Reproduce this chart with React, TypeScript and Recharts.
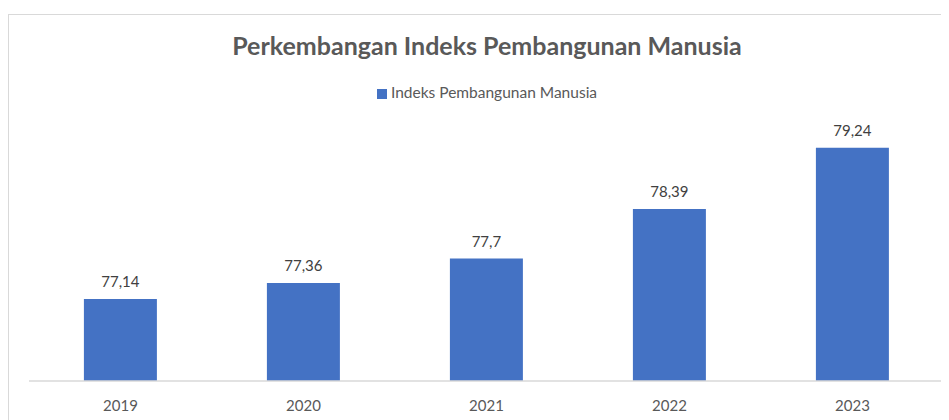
import React from "react";
import { BarChart, Bar, XAxis, YAxis, LabelList } from "recharts";

const years = ["2019", "2020", "2021", "2022", "2023"];
const ipmValues = [77.14, 77.36, 77.7, 78.39, 79.24];
const seriesName = "Indeks Pembangunan Manusia";
const chartTitle = "Perkembangan Indeks Pembangunan Manusia";

const data = years.map((y, i) => ({ year: y, value: ipmValues[i] }));

const BAR_COLOR = "#4472C4";
const TEXT = "#595959";
const FONT = "Lato, 'Open Sans', sans-serif";

export default function App() {
  return (
    <div style={{ position: "relative", width: 941, height: 412, fontFamily: FONT, overflow: "hidden" }}>
      <div
        style={{
          position: "absolute",
          left: 0,
          top: 6,
          width: 960,
          height: 420,
          borderTop: "1px solid #d9d9d9",
          borderLeft: "1px solid #d9d9d9",
          boxSizing: "border-box",
        }}
      />
      <div
        style={{
          position: "absolute",
          left: 0,
          width: 958,
          top: 22,
          textAlign: "center",
          fontSize: 25,
          fontWeight: 700,
          color: TEXT,
          lineHeight: "30px",
        }}
      >
        {chartTitle}
      </div>
      <div
        style={{
          position: "absolute",
          left: 0,
          width: 958,
          top: 75,
          textAlign: "center",
          fontSize: 15.5,
          color: TEXT,
          lineHeight: "18px",
        }}
      >
        <span style={{ display: "inline-block", width: 10, height: 10, background: BAR_COLOR, marginRight: 4, verticalAlign: "-1px" }} />
        {seriesName}
      </div>
      <div style={{ position: "absolute", left: 0, top: 0 }}>
        <BarChart
          width={941}
          height={412}
          data={data}
          margin={{ top: 85, right: 5, bottom: 9, left: 21 }}
          barCategoryGap="30%"
        >
          <XAxis
            dataKey="year"
            axisLine={{ stroke: "#d9d9d9", strokeWidth: 1.5 }}
            tickLine={false}
            tickMargin={13}
            height={30}
            tick={{ fill: TEXT, fontSize: 15, fontFamily: FONT }}
          />
          <YAxis hide domain={[76, 80]} allowDataOverflow />
          <Bar dataKey="value" name={seriesName} fill={BAR_COLOR} isAnimationActive={false}>
            <LabelList
              dataKey="value"
              position="top"
              offset={12}
              fill="#404040"
              fontSize={15}
              fontFamily={FONT}
              formatter={(v: any) => String(v).replace(".", ",")}
            />
          </Bar>
        </BarChart>
      </div>
    </div>
  );
}
